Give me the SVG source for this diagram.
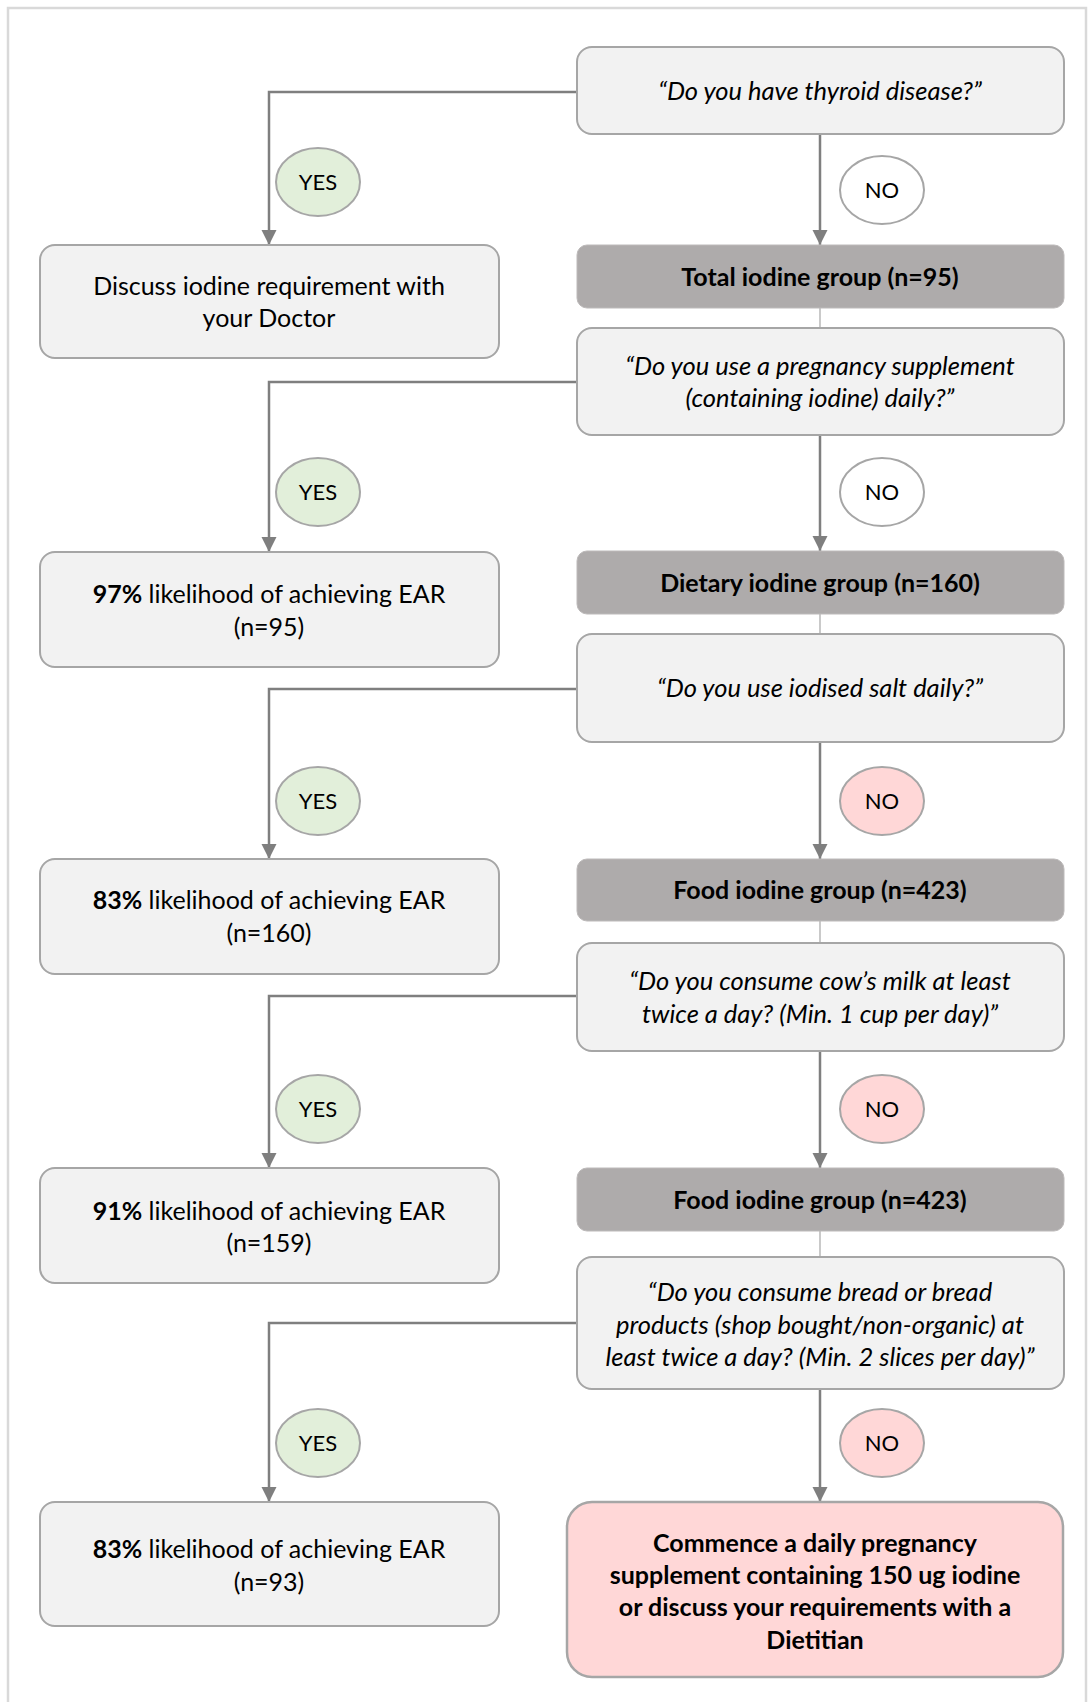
<svg xmlns="http://www.w3.org/2000/svg" width="1088" height="1702" viewBox="0 0 1088 1702">
<style>
text{font-family:Lato,"Open Sans","Liberation Sans",sans-serif;font-size:25px;fill:#000;text-anchor:middle}
.q{font-style:italic;font-size:25.5px}
.b{font-weight:bold}
.l{font-size:22px}
.box{fill:#f2f2f2;stroke:#a6a6a6;stroke-width:2}
.grp{fill:#aeabab;stroke:#bdbaba;stroke-width:1}
.yes{fill:#e2efda;stroke:#a6a6a6;stroke-width:2}
.no{fill:#ffffff;stroke:#a6a6a6;stroke-width:2}
.nop{fill:#ffd7d7;stroke:#a6a6a6;stroke-width:2}
.red{fill:#ffd7d7;stroke:#a6a6a6;stroke-width:2.5}
.c{fill:none;stroke:#7f7f7f;stroke-width:2.5;marker-end:url(#ah)}
.t{fill:none;stroke:#a6a6a6;stroke-width:1.2}
</style>
<defs>
<marker id="ah" markerUnits="userSpaceOnUse" markerWidth="16" markerHeight="16" refX="15" refY="7.5" orient="auto">
<path d="M0,0 L15,7.5 L0,15 z" fill="#7f7f7f"/>
</marker>
</defs>
<rect x="0" y="0" width="1088" height="1702" fill="#fff"/>
<rect x="8" y="8" width="1078" height="1720" fill="none" stroke="#d9d9d9" stroke-width="2.5"/>

<g id="connectors">
<path class="c" d="M577,92 H269 V245"/>
<path class="c" d="M820,134 V245"/>
<path class="t" d="M820,308 V328"/>
<path class="c" d="M577,382 H269 V552"/>
<path class="c" d="M820,435 V551"/>
<path class="t" d="M820,614 V634"/>
<path class="c" d="M577,689 H269 V859"/>
<path class="c" d="M820,742 V859"/>
<path class="t" d="M820,921 V943"/>
<path class="c" d="M577,996 H269 V1168"/>
<path class="c" d="M820,1051 V1168"/>
<path class="t" d="M820,1231 V1257"/>
<path class="c" d="M577,1323 H269 V1502"/>
<path class="c" d="M820,1389 V1502"/>
</g>

<g id="q1"><rect class="box" x="577" y="47" width="487" height="87" rx="15"/>
<text class="q" x="820" y="100">“Do you have thyroid disease?”</text></g>
<g id="yes1"><ellipse class="yes" cx="318" cy="182" rx="42" ry="34"/><text class="l" x="318" y="190">YES</text></g>
<g id="no1"><ellipse class="no" cx="882" cy="190" rx="42" ry="34"/><text class="l" x="882" y="198">NO</text></g>
<g id="doctor"><rect class="box" x="40" y="245" width="459" height="113" rx="15"/>
<text x="269" y="295">Discuss iodine requirement with</text><text x="269" y="327">your Doctor</text></g>
<g id="total"><rect class="grp" x="577" y="245" width="487" height="63" rx="10"/>
<text class="b" x="820" y="286">Total iodine group (n=95)</text></g>

<g id="q2"><rect class="box" x="577" y="328" width="487" height="107" rx="15"/>
<text class="q" x="820" y="375">“Do you use a pregnancy supplement</text>
<text class="q" x="820" y="407">(containing iodine) daily?”</text></g>
<g id="yes2"><ellipse class="yes" cx="318" cy="492" rx="42" ry="34"/><text class="l" x="318" y="500">YES</text></g>
<g id="no2"><ellipse class="no" cx="882" cy="492" rx="42" ry="34"/><text class="l" x="882" y="500">NO</text></g>
<g id="r97"><rect class="box" x="40" y="552" width="459" height="115" rx="15"/>
<text x="269" y="603"><tspan class="b">97%</tspan> likelihood of achieving EAR</text><text x="269" y="636">(n=95)</text></g>
<g id="dietary"><rect class="grp" x="577" y="551" width="487" height="63" rx="10"/>
<text class="b" x="820" y="592">Dietary iodine group (n=160)</text></g>

<g id="q3"><rect class="box" x="577" y="634" width="487" height="108" rx="15"/>
<text class="q" x="820" y="697">“Do you use iodised salt daily?”</text></g>
<g id="yes3"><ellipse class="yes" cx="318" cy="801" rx="42" ry="34"/><text class="l" x="318" y="809">YES</text></g>
<g id="no3"><ellipse class="nop" cx="882" cy="801" rx="42" ry="34"/><text class="l" x="882" y="809">NO</text></g>
<g id="r83a"><rect class="box" x="40" y="859" width="459" height="115" rx="15"/>
<text x="269" y="909"><tspan class="b">83%</tspan> likelihood of achieving EAR</text><text x="269" y="942">(n=160)</text></g>
<g id="food1"><rect class="grp" x="577" y="859" width="487" height="62" rx="10"/>
<text class="b" x="820" y="899">Food iodine group (n=423)</text></g>

<g id="q4"><rect class="box" x="577" y="943" width="487" height="108" rx="15"/>
<text class="q" x="820" y="990">“Do you consume cow’s milk at least</text>
<text class="q" x="820" y="1023">twice a day? (Min. 1 cup per day)”</text></g>
<g id="yes4"><ellipse class="yes" cx="318" cy="1109" rx="42" ry="34"/><text class="l" x="318" y="1117">YES</text></g>
<g id="no4"><ellipse class="nop" cx="882" cy="1109" rx="42" ry="34"/><text class="l" x="882" y="1117">NO</text></g>
<g id="r91"><rect class="box" x="40" y="1168" width="459" height="115" rx="15"/>
<text x="269" y="1220"><tspan class="b">91%</tspan> likelihood of achieving EAR</text><text x="269" y="1252">(n=159)</text></g>
<g id="food2"><rect class="grp" x="577" y="1168" width="487" height="63" rx="10"/>
<text class="b" x="820" y="1209">Food iodine group (n=423)</text></g>

<g id="q5"><rect class="box" x="577" y="1257" width="487" height="132" rx="15"/>
<text class="q" x="820" y="1301">“Do you consume bread or bread</text>
<text class="q" x="820" y="1334">products (shop bought/non-organic) at</text>
<text class="q" x="820" y="1366">least twice a day? (Min. 2 slices per day)”</text></g>
<g id="yes5"><ellipse class="yes" cx="318" cy="1443" rx="42" ry="34"/><text class="l" x="318" y="1451">YES</text></g>
<g id="no5"><ellipse class="nop" cx="882" cy="1443" rx="42" ry="34"/><text class="l" x="882" y="1451">NO</text></g>
<g id="r83b"><rect class="box" x="40" y="1502" width="459" height="124" rx="15"/>
<text x="269" y="1558"><tspan class="b">83%</tspan> likelihood of achieving EAR</text><text x="269" y="1591">(n=93)</text></g>
<g id="final"><rect class="red" x="567" y="1502" width="496" height="175" rx="25"/>
<text class="b" x="815" y="1552">Commence a daily pregnancy</text>
<text class="b" x="815" y="1584">supplement containing 150 ug iodine</text>
<text class="b" x="815" y="1616">or discuss your requirements with a</text>
<text class="b" x="815" y="1649">Dietitian</text></g>
</svg>
